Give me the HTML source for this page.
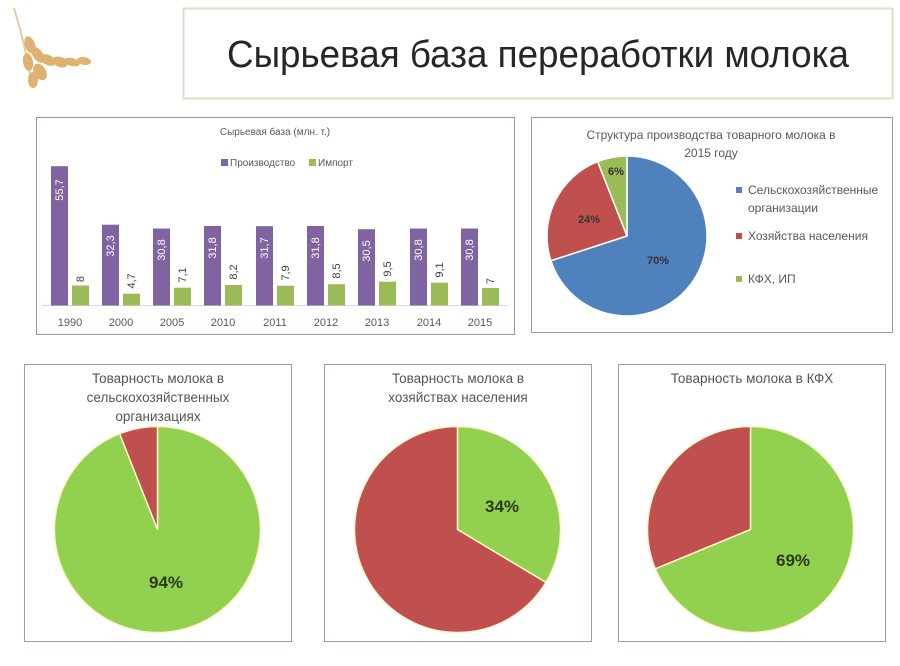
<!DOCTYPE html>
<html><head><meta charset="utf-8"><style>
body{margin:0;width:900px;height:661px;background:#fff;overflow:hidden;font-family:"Liberation Sans",sans-serif}
</style></head><body>
<svg width="900" height="661" xmlns="http://www.w3.org/2000/svg" font-family="Liberation Sans, sans-serif">
<g fill="#d9a55a" opacity="0.85">
<path d="M14 8 Q24 40 30 75" stroke="#e2c48a" stroke-width="2" fill="none"/>
<ellipse cx="30" cy="45" rx="5" ry="9" transform="rotate(-20 30 45)"/>
<ellipse cx="38" cy="55" rx="5" ry="9" transform="rotate(-35 38 55)"/>
<ellipse cx="28" cy="62" rx="5" ry="9" transform="rotate(-10 28 62)"/>
<ellipse cx="48" cy="60" rx="5" ry="8" transform="rotate(-60 48 60)"/>
<ellipse cx="60" cy="62" rx="5" ry="8" transform="rotate(-70 60 62)"/>
<ellipse cx="72" cy="62" rx="4" ry="8" transform="rotate(-75 72 62)"/>
<ellipse cx="84" cy="61" rx="4" ry="7" transform="rotate(-80 84 61)"/>
<ellipse cx="40" cy="72" rx="6" ry="9" transform="rotate(-30 40 72)"/>
<ellipse cx="33" cy="80" rx="5" ry="8"/>
</g>
<rect x="183.5" y="8.5" width="709" height="90" fill="#fff" stroke="#d6e2c4" stroke-width="2"/>
<text x="538" y="67" font-size="38" text-anchor="middle" fill="#262626" textLength="622" lengthAdjust="spacingAndGlyphs">Сырьевая база переработки молока</text>

<rect x="36.5" y="117.5" width="478" height="217" fill="#fff" stroke="#9a8fb5"/>
<text x="275" y="135" font-size="10" text-anchor="middle" fill="#595959">Сырьевая база (млн. т.)</text>
<rect x="221" y="159" width="7" height="7" fill="#8064a2"/><text x="230" y="166" font-size="10" fill="#595959">Производство</text>
<rect x="309" y="159" width="7" height="7" fill="#9bbb59"/><text x="318" y="166" font-size="10" fill="#595959">Импорт</text>
<line x1="42" y1="305.5" x2="508" y2="305.5" stroke="#d9d9d9"/>
<g font-size="11">
<rect x="51" y="166.2" width="17" height="139.3" fill="#8064a2"/><rect x="72" y="285.5" width="17" height="20" fill="#9bbb59"/>
<text transform="translate(63,190) rotate(-90)" text-anchor="middle" fill="#fff">55,7</text><text transform="translate(84,279) rotate(-90)" text-anchor="middle" fill="#404040">8</text>
<text x="70" y="326" text-anchor="middle" fill="#595959">1990</text>

<rect x="102" y="224.7" width="17" height="80.8" fill="#8064a2"/><rect x="123" y="293.7" width="17" height="11.8" fill="#9bbb59"/>
<text transform="translate(114,246) rotate(-90)" text-anchor="middle" fill="#fff">32,3</text><text transform="translate(135,281) rotate(-90)" text-anchor="middle" fill="#404040">4,7</text>
<text x="121" y="326" text-anchor="middle" fill="#595959">2000</text>

<rect x="153" y="228.5" width="17" height="77" fill="#8064a2"/><rect x="174" y="287.7" width="17" height="17.8" fill="#9bbb59"/>
<text transform="translate(165,250) rotate(-90)" text-anchor="middle" fill="#fff">30,8</text><text transform="translate(186,275) rotate(-90)" text-anchor="middle" fill="#404040">7,1</text>
<text x="172" y="326" text-anchor="middle" fill="#595959">2005</text>

<rect x="204" y="226" width="17" height="79.5" fill="#8064a2"/><rect x="225" y="285" width="17" height="20.5" fill="#9bbb59"/>
<text transform="translate(216,248) rotate(-90)" text-anchor="middle" fill="#fff">31,8</text><text transform="translate(237,272) rotate(-90)" text-anchor="middle" fill="#404040">8,2</text>
<text x="223" y="326" text-anchor="middle" fill="#595959">2010</text>

<rect x="256" y="226.2" width="17" height="79.3" fill="#8064a2"/><rect x="277" y="285.7" width="17" height="19.8" fill="#9bbb59"/>
<text transform="translate(268,248) rotate(-90)" text-anchor="middle" fill="#fff">31,7</text><text transform="translate(289,273) rotate(-90)" text-anchor="middle" fill="#404040">7,9</text>
<text x="275" y="326" text-anchor="middle" fill="#595959">2011</text>

<rect x="307" y="226" width="17" height="79.5" fill="#8064a2"/><rect x="328" y="284.2" width="17" height="21.3" fill="#9bbb59"/>
<text transform="translate(319,248) rotate(-90)" text-anchor="middle" fill="#fff">31,8</text><text transform="translate(340,271) rotate(-90)" text-anchor="middle" fill="#404040">8,5</text>
<text x="326" y="326" text-anchor="middle" fill="#595959">2012</text>

<rect x="358" y="229.2" width="17" height="76.3" fill="#8064a2"/><rect x="379" y="281.7" width="17" height="23.8" fill="#9bbb59"/>
<text transform="translate(370,251) rotate(-90)" text-anchor="middle" fill="#fff">30,5</text><text transform="translate(391,269) rotate(-90)" text-anchor="middle" fill="#404040">9,5</text>
<text x="377" y="326" text-anchor="middle" fill="#595959">2013</text>

<rect x="410" y="228.5" width="17" height="77" fill="#8064a2"/><rect x="431" y="282.7" width="17" height="22.8" fill="#9bbb59"/>
<text transform="translate(422,250) rotate(-90)" text-anchor="middle" fill="#fff">30,8</text><text transform="translate(443,270) rotate(-90)" text-anchor="middle" fill="#404040">9,1</text>
<text x="429" y="326" text-anchor="middle" fill="#595959">2014</text>

<rect x="461" y="228.5" width="17" height="77" fill="#8064a2"/><rect x="482" y="288" width="17" height="17.5" fill="#9bbb59"/>
<text transform="translate(473,250) rotate(-90)" text-anchor="middle" fill="#fff">30,8</text><text transform="translate(494,281) rotate(-90)" text-anchor="middle" fill="#404040">7</text>
<text x="480" y="326" text-anchor="middle" fill="#595959">2015</text>
</g>

<rect x="531.5" y="117.5" width="361" height="215" fill="#fff" stroke="#9a8fb5"/>
<text x="711" y="139" font-size="12" text-anchor="middle" fill="#595959">Структура производства товарного молока в</text>
<text x="711" y="157" font-size="12" text-anchor="middle" fill="#595959">2015 году</text>
<g stroke="#fff" stroke-width="1.5">
<path d="M627 236 L627 156 A80 80 0 1 1 550.9 260.7 Z" fill="#4f81bd"/>
<path d="M627 236 L550.9 260.7 A80 80 0 0 1 597.6 161.6 Z" fill="#c0504d"/>
<path d="M627 236 L597.6 161.6 A80 80 0 0 1 627 156 Z" fill="#9bbb59"/>
</g>
<g font-size="11" font-weight="bold" fill="#333" text-anchor="middle">
<text x="616" y="175">6%</text><text x="589" y="223">24%</text><text x="658" y="264">70%</text>
</g>
<g font-size="12" fill="#595959">
<rect x="736" y="187" width="6" height="6" fill="#4f81bd"/><text x="748" y="194">Сельскохозяйственные</text>
<text x="748" y="212">организации</text>
<rect x="736" y="233" width="6" height="6" fill="#c0504d"/><text x="748" y="240">Хозяйства населения</text>
<rect x="736" y="276" width="6" height="6" fill="#9bbb59"/><text x="748" y="283">КФХ, ИП</text>
</g>

<g stroke="#9a9ab5" fill="#fff">
<rect x="24.5" y="364.5" width="267" height="277"/>
<rect x="324.5" y="364.5" width="267" height="277"/>
<rect x="618.5" y="364.5" width="267" height="277"/>
</g>
<g font-size="13.5" fill="#555" text-anchor="middle">
<text x="158" y="383">Товарность молока в</text>
<text x="158" y="402">сельскохозяйственных</text>
<text x="158" y="421">организациях</text>
<text x="458" y="383">Товарность молока в</text>
<text x="458" y="402">хозяйствах населения</text>
<text x="752" y="383">Товарность молока в КФХ</text>
</g>
<g stroke="#fff5cc" stroke-width="1.5">
<path d="M157.5 529.5 L157.5 426.5 A103 103 0 1 1 119.6 433.7 Z" fill="#92d050"/>
<path d="M157.5 529.5 L119.6 433.7 A103 103 0 0 1 157.5 426.5 Z" fill="#c0504d"/>
<path d="M457.5 529.5 L457.5 426.5 A103 103 0 0 1 545.9 582.4 Z" fill="#92d050"/>
<path d="M457.5 529.5 L545.9 582.4 A103 103 0 1 1 457.5 426.5 Z" fill="#c0504d"/>
<path d="M750.5 529.5 L750.5 426.5 A103 103 0 1 1 655.3 568.8 Z" fill="#92d050"/>
<path d="M750.5 529.5 L655.3 568.8 A103 103 0 0 1 750.5 426.5 Z" fill="#c0504d"/>
</g>
<g font-size="17" font-weight="bold" fill="#2d3a1a" text-anchor="middle">
<text x="166" y="588">94%</text><text x="502" y="512">34%</text><text x="793" y="566">69%</text>
</g>
</svg>
</body></html>
